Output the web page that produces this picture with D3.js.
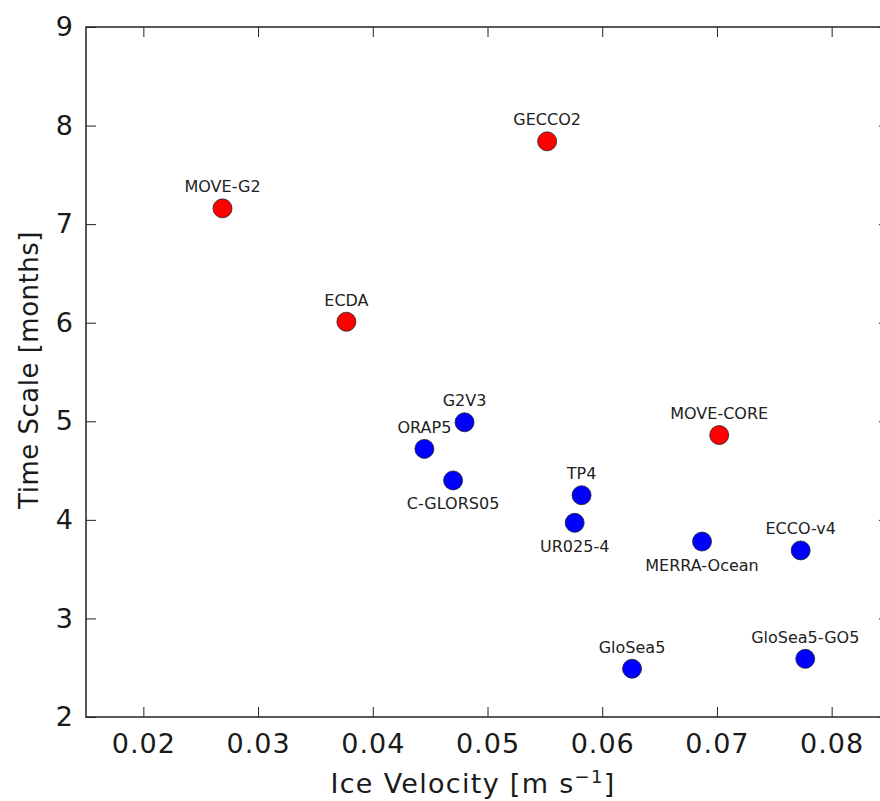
<!DOCTYPE html>
<html>
<head>
<meta charset="utf-8">
<script src="https://cdn.jsdelivr.net/npm/d3@7"></script>
<style>
  body { margin: 0; background: #fff; }
  text { font-family: "DejaVu Sans", sans-serif; fill: #1a1a1a; }
</style>
</head>
<body>
<svg id="chart" width="880" height="801"></svg>
<script>
// model names, ice velocity (m/s), time scale (months)
var models = ["MOVE-G2", "GECCO2", "ECDA", "G2V3", "ORAP5", "C-GLORS05", "TP4",
              "UR025-4", "MOVE-CORE", "MERRA-Ocean", "ECCO-v4", "GloSea5-GO5", "GloSea5"];
var velocity = [0.0269, 0.0552, 0.0377, 0.0480, 0.0445, 0.0470, 0.0582,
                0.0576, 0.0702, 0.0687, 0.0773, 0.0777, 0.0626];
var timeScale = [7.16, 7.84, 6.01, 4.99, 4.72, 4.40, 4.25,
                 3.97, 4.86, 3.78, 3.69, 2.59, 2.49];
var group = ["red", "red", "red", "blue", "blue", "blue", "blue",
             "blue", "red", "blue", "blue", "blue", "blue"];
var labelBelow = ["C-GLORS05", "UR025-4", "MERRA-Ocean"];

var xTicks = [0.02, 0.03, 0.04, 0.05, 0.06, 0.07, 0.08];
var yTicks = [2, 3, 4, 5, 6, 7, 8, 9];

var margin = {left: 86, right: 889, top: 27, bottom: 717};

var svg = d3.select("#chart");

var x = d3.scaleLinear().domain([0.015, 0.085]).range([margin.left, margin.right]);
var y = d3.scaleLinear().domain([2, 9]).range([margin.bottom, margin.top]);

var colorOf = {red: "#ff0000", blue: "#0000ff"};

var points = models.map(function (m, i) {
    return {name: m, vx: velocity[i], ts: timeScale[i], c: group[i]};
});

// ticks pointing inward on all four sides
function styleAxis(g) {
    g.select(".domain").remove();
    g.selectAll(".tick line").attr("stroke", "#222").attr("stroke-width", 1);
    g.selectAll(".tick text").style("font-size", "27px").style("letter-spacing", "1px")
        .attr("fill", "#1a1a1a");
}

svg.append("g")
    .attr("transform", "translate(0," + margin.bottom + ")")
    .call(d3.axisBottom(x).tickValues(xTicks).tickFormat(d3.format(".2f"))
        .tickSizeInner(-10).tickPadding(17))
    .call(styleAxis);

svg.append("g")
    .attr("transform", "translate(0," + margin.top + ")")
    .call(d3.axisTop(x).tickValues(xTicks).tickFormat("").tickSizeInner(-10))
    .call(styleAxis);

svg.append("g")
    .attr("transform", "translate(" + margin.left + ",0)")
    .call(d3.axisLeft(y).tickValues(yTicks).tickFormat(d3.format("d"))
        .tickSizeInner(-10).tickPadding(12))
    .call(styleAxis);

svg.append("g")
    .attr("transform", "translate(" + margin.right + ",0)")
    .call(d3.axisRight(y).tickValues(yTicks).tickFormat("").tickSizeInner(-10))
    .call(styleAxis);

svg.append("rect")
    .attr("x", margin.left).attr("y", margin.top)
    .attr("width", margin.right - margin.left)
    .attr("height", margin.bottom - margin.top)
    .attr("fill", "none").attr("stroke", "#222").attr("stroke-width", 1.5);

svg.selectAll("circle.pt")
    .data(points)
    .enter().append("circle")
    .attr("class", "pt")
    .attr("cx", function (d) { return x(d.vx); })
    .attr("cy", function (d) { return y(d.ts); })
    .attr("r", 9.5)
    .attr("fill", function (d) { return colorOf[d.c]; })
    .attr("stroke", "#222")
    .attr("stroke-width", 0.8);

svg.selectAll("text.lbl")
    .data(points)
    .enter().append("text")
    .attr("class", "lbl")
    .attr("x", function (d) { return x(d.vx); })
    .attr("y", function (d) { return y(d.ts); })
    .attr("dy", function (d) { return labelBelow.indexOf(d.name) >= 0 ? 29 : -16; })
    .attr("text-anchor", "middle")
    .style("font-size", "16px")
    .style("fill", "#222")
    .text(function (d) { return d.name; });

// axis titles
var xl = svg.append("text")
    .attr("x", 473).attr("y", 793)
    .attr("text-anchor", "middle")
    .style("font-size", "27px")
    .style("letter-spacing", "1.3px");
xl.append("tspan").text("Ice Velocity [m s");
xl.append("tspan").attr("dy", -10).style("font-size", "18px").text("\u22121");
xl.append("tspan").attr("dy", 10).text("]");

svg.append("text")
    .attr("transform", "translate(38,370) rotate(-90)")
    .attr("text-anchor", "middle")
    .style("font-size", "26px")
    .style("letter-spacing", "0.5px")
    .text("Time Scale [months]");
</script>
</body>
</html>
